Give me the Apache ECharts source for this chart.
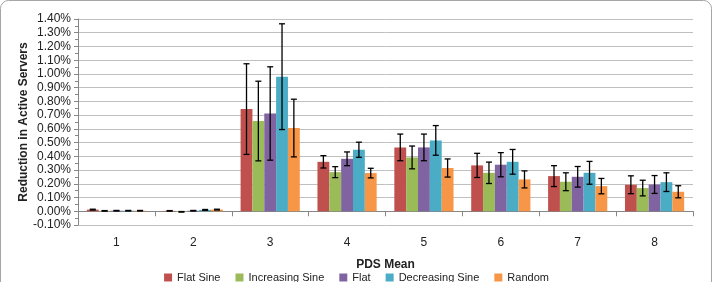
<!DOCTYPE html>
<html>
<head>
<meta charset="utf-8">
<script src="https://cdn.jsdelivr.net/npm/echarts@6/dist/echarts.min.js"></script>
<style>
  html, body { margin: 0; padding: 0; background: #fff; }
  #chart { width: 713px; height: 282px; }
</style>
</head>
<body>
<div id="chart"></div>
<script>
// PDS mean categories
const categories = ["1", "2", "3", "4", "5", "6", "7", "8"];
const seriesNames = ["Flat Sine", "Increasing Sine", "Flat", "Decreasing Sine", "Random"];
const colors = ["#C0504D", "#9BBB59", "#8064A2", "#4BACC6", "#F79646"];

// mean reduction in active servers (%)
const flatSine       = [0.012, 0.003, 0.744, 0.360, 0.465, 0.334, 0.256, 0.193];
const increasingSine = [0.003, -0.004, 0.657, 0.285, 0.392, 0.280, 0.215, 0.169];
const flat           = [0.004, 0.004, 0.712, 0.382, 0.465, 0.339, 0.251, 0.195];
const decreasingSine = [0.004, 0.010, 0.980, 0.448, 0.516, 0.360, 0.280, 0.212];
const random         = [0.004, 0.012, 0.606, 0.278, 0.315, 0.232, 0.183, 0.142];

// error bar half-widths (%)
const flatSineErr       = [0.003, 0.002, 0.330, 0.045, 0.097, 0.088, 0.076, 0.065];
const increasingSineErr = [0.002, 0.002, 0.290, 0.040, 0.083, 0.078, 0.065, 0.057];
const flatErr           = [0.002, 0.002, 0.340, 0.050, 0.097, 0.088, 0.075, 0.065];
const decreasingSineErr = [0.002, 0.003, 0.385, 0.055, 0.108, 0.090, 0.083, 0.068];
const randomErr         = [0.002, 0.003, 0.210, 0.035, 0.066, 0.062, 0.056, 0.044];

const values = [flatSine, increasingSine, flat, decreasingSine, random];
const errors = [flatSineErr, increasingSineErr, flatErr, decreasingSineErr, randomErr];

const font = "'Liberation Sans', Arial, sans-serif";
const catGap = 0.23;

const chart = echarts.init(document.getElementById("chart"));

const barSeries = seriesNames.map((name, k) => ({
  name: name,
  type: "bar",
  data: values[k],
  barGap: "0%",
  barCategoryGap: catGap * 100 + "%",
  itemStyle: { color: colors[k] },
  z: 2
}));

const errSeries = seriesNames.map((name, k) => ({
  name: name + " err",
  type: "custom",
  data: values[k].map((v, i) => [i, v - errors[k][i], v + errors[k][i]]),
  encode: { x: 0, y: [1, 2] },
  z: 5,
  silent: true,
  renderItem: function (params, api) {
    const i = api.value(0);
    const catW = api.size([1, 0])[0];
    const barW = catW * (1 - catGap) / seriesNames.length;
    const cx = api.coord([i, 0])[0] + (k - 2) * barW;
    const yLo = api.coord([i, api.value(1)])[1];
    const yHi = api.coord([i, api.value(2)])[1];
    const cap = 3;
    const style = { stroke: "#000", lineWidth: 1.3 };
    return {
      type: "group",
      children: [
        { type: "line", shape: { x1: cx, y1: yLo, x2: cx, y2: yHi }, style: style },
        { type: "line", shape: { x1: cx - cap, y1: yHi, x2: cx + cap, y2: yHi }, style: style },
        { type: "line", shape: { x1: cx - cap, y1: yLo, x2: cx + cap, y2: yLo }, style: style }
      ]
    };
  }
}));

chart.setOption({
  animation: false,
  color: colors,
  textStyle: { fontFamily: font },
  graphic: [{
    type: "rect",
    shape: { x: 0.5, y: 0.5, width: 711, height: 300, r: 8 },
    style: { fill: "none", stroke: "#a6a6a6", lineWidth: 1 },
    silent: true
  }],
  grid: { left: 78, right: 20, top: 19, bottom: 57, outerBoundsMode: "none" },
  legend: {
    data: seriesNames,
    top: 272,
    padding: 0,
    left: "center",
    itemWidth: 8,
    itemHeight: 8,
    itemGap: 15,
    icon: "rect",
    textStyle: { fontSize: 11, color: "#222", fontFamily: font }
  },
  xAxis: {
    type: "category",
    data: categories,
    name: "PDS Mean",
    nameLocation: "middle",
    nameGap: 34,
    nameMoveOverlap: false,
    nameTextStyle: { fontWeight: "bold", fontSize: 12, color: "#222" },
    axisLine: { onZero: true, lineStyle: { color: "#868686" } },
    axisTick: { show: true, length: 5, lineStyle: { color: "#868686" } },
    axisLabel: { margin: 12, fontSize: 12, color: "#222" }
  },
  yAxis: {
    type: "value",
    min: -0.1,
    max: 1.4,
    interval: 0.1,
    name: "Reduction in Active Servers",
    nameLocation: "middle",
    nameGap: 48,
    nameMoveOverlap: false,
    nameTextStyle: { fontWeight: "bold", fontSize: 12, color: "#222" },
    axisLine: { show: true, lineStyle: { color: "#868686" } },
    axisTick: { show: true, length: 4, lineStyle: { color: "#868686" } },
    minorTick: { show: true, splitNumber: 2, length: 3, lineStyle: { color: "#868686" } },
    splitLine: { show: true, lineStyle: { color: "#c0c0c0", width: 1 } },
    axisLabel: {
      fontSize: 12,
      color: "#222",
      margin: 7,
      formatter: v => v.toFixed(2) + "%"
    }
  },
  series: barSeries.concat(errSeries)
});
</script>
</body>
</html>
